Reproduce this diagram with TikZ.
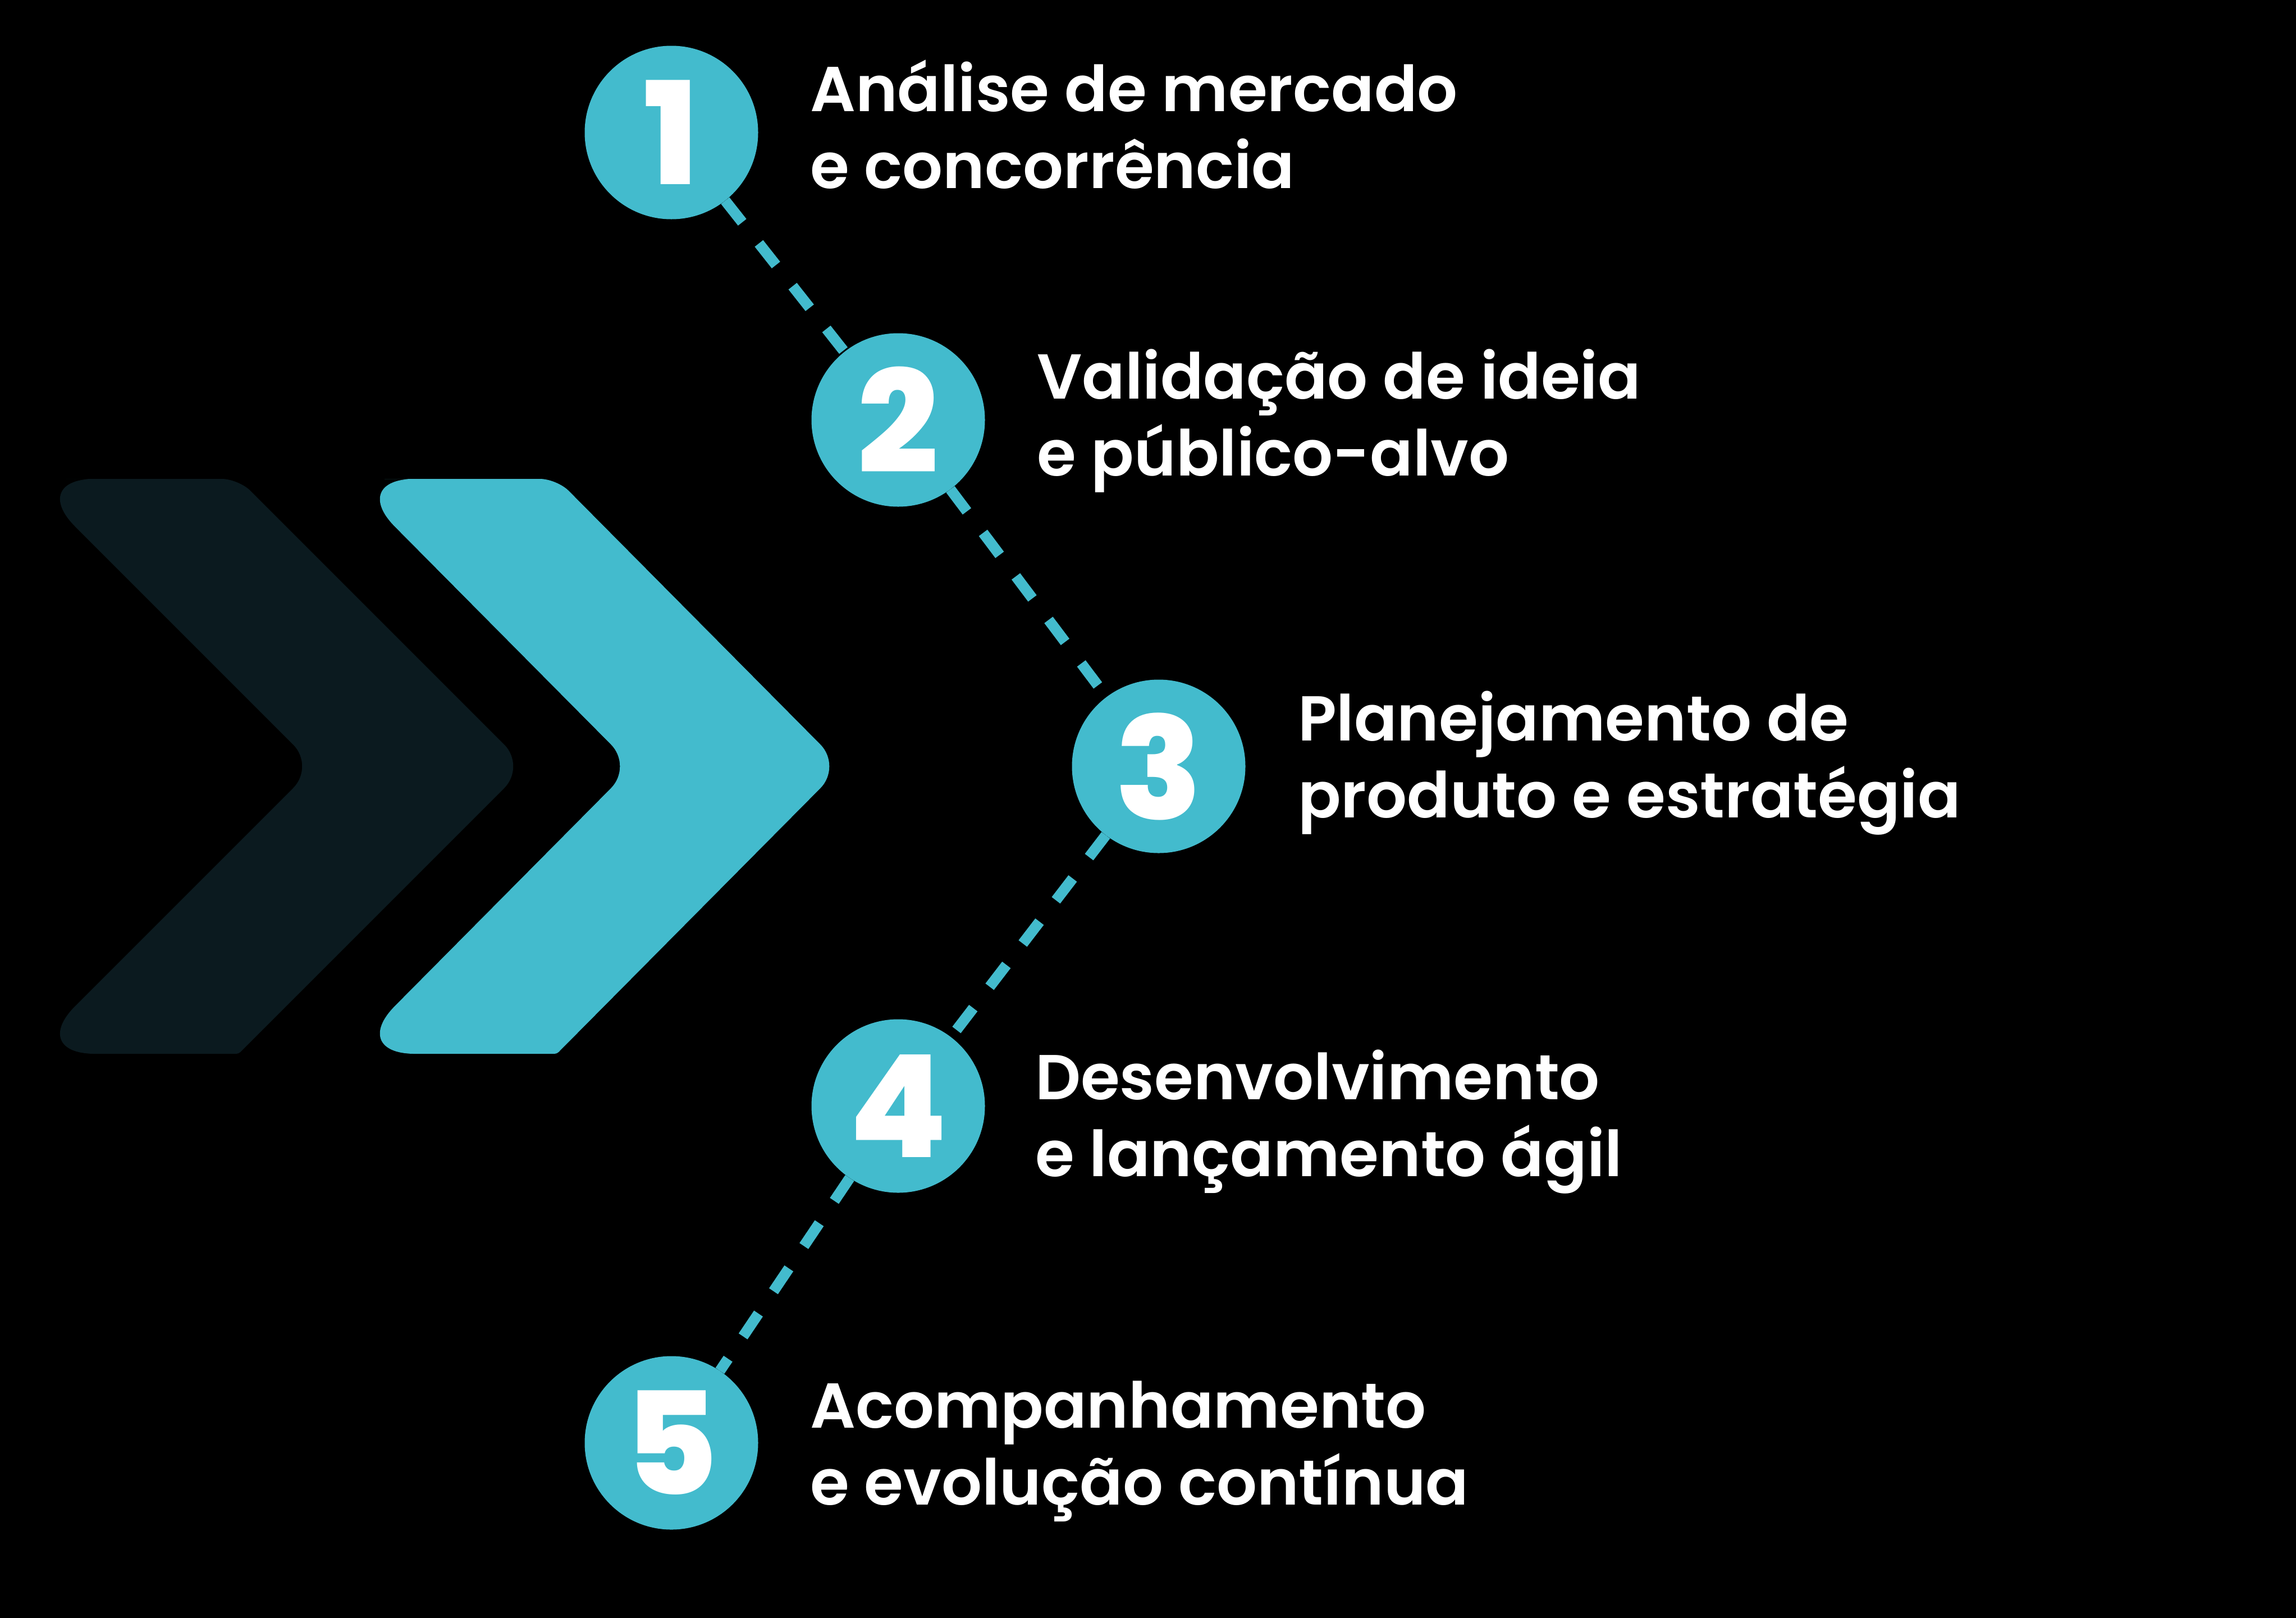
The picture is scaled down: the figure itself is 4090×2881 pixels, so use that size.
\documentclass[tikz,border=0pt]{standalone}
\usepackage{fontspec}
\setmainfont{Poppins SemiBold}
\newfontfamily\numfont{Poppins ExtraBold}
\usetikzlibrary{positioning, calc}
\definecolor{tealc}{RGB}{67,187,205}
\definecolor{chevdark}{RGB}{11,26,31}
\tikzstyle{stepdot} = [circle, fill=tealc, minimum size=309pt, inner sep=0pt, text=white, font=\numfont\fontsize{254}{254}\selectfont]
\tikzstyle{steptext} = [anchor=base west, align=left, inner sep=0pt, text=white, font=\fontsize{113}{137}\selectfont]
\tikzstyle{link} = [draw=tealc, line width=19pt, dash pattern=on 49pt off 48pt]

\begin{document}
\begin{tikzpicture}[x=1pt, y=-1pt]
  \useasboundingbox (0,0) rectangle (4090,2881);
  \fill[black] (-10,-10) rectangle (4100,2891);

  % chevrons
  \fill[chevdark] (237,853) [rounded corners=30] -- (425,853) [rounded corners=55] -- (937,1365) [rounded corners=4] -- (425,1877) [rounded corners=120] -- (49,1877) [rounded corners=55] -- (561,1365) [rounded corners=120] -- (49,853) -- cycle;
  \fill[tealc] (805,853) [rounded corners=30] -- (992,853) [rounded corners=55] -- (1500,1365) [rounded corners=4] -- (992,1877) [rounded corners=120] -- (619,1877) [rounded corners=55] -- (1127,1365) [rounded corners=120] -- (619,853) -- cycle;

  % steps
  \node[stepdot] (c1) at (1196,236) {1};
  \node[stepdot] (c2) at (1600,748) {2};
  \node[stepdot] (c3) at (2064,1365) {3};
  \node[stepdot] (c4) at (1600,1970) {4};
  \node[stepdot] (c5) at (1196,2570) {5};

  \draw[link] (c1) -- (c2);
  \draw[link] (c2) -- (c3);
  \draw[link] (c3) -- (c4);
  \draw[link] (c4) -- (c5);

  % labels (base = last line)
  \node[steptext] (t1) at ($(c1)+(247,99)$) {Análise de mercado\\e concorrência};
  \node[steptext] (t2) at ($(c2)+(247,99)$) {Validação de ideia\\e público-alvo};
  \node[steptext] (t3) at ($(c3)+(248,91)$) {Planejamento de\\produto e estratégia};
  \node[steptext] (t4) at ($(c4)+(244,125)$) {Desenvolvimento\\e lançamento ágil};
  \node[steptext] (t5) at ($(c5)+(247,110)$) {Acompanhamento\\e evolução contínua};
\end{tikzpicture}
\end{document}
